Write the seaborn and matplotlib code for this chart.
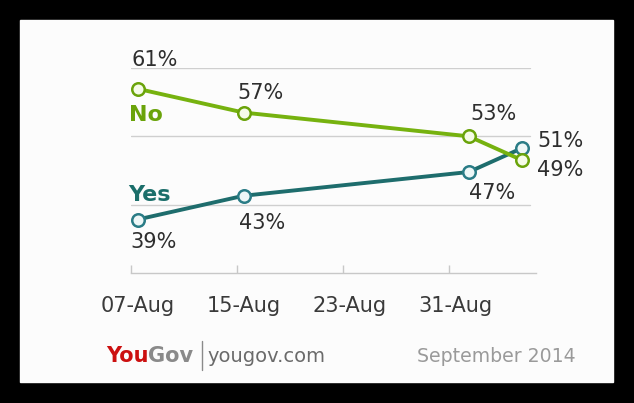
import matplotlib
matplotlib.use("Agg")
import matplotlib.pyplot as plt
import matplotlib.patches as mpatches
import matplotlib.lines as mlines
import pandas as pd
import seaborn as sns

# poll data (YouGov, Scottish independence)
dates = ["2014-08-07 12:00", "2014-08-15 12:00", "2014-09-01 12:00", "2014-09-05 12:00"]
no_vals = [61, 57, 53, 49]
yes_vals = [39, 43, 47, 51]
tick_dates = ["2014-08-07", "2014-08-15", "2014-08-23", "2014-08-31"]
tick_labels = ["07-Aug", "15-Aug", "23-Aug", "31-Aug"]

df = pd.DataFrame({
    "date": pd.to_datetime(dates * 2),
    "pct": no_vals + yes_vals,
    "answer": ["No"] * len(no_vals) + ["Yes"] * len(yes_vals),
})

sns.set_theme(style="white")
plt.rcParams["font.family"] = ["DejaVu Sans"]

W, H = 634, 403
fig = plt.figure(figsize=(W / 100, H / 100), dpi=100, facecolor="black")
fig.add_artist(mpatches.Rectangle((20 / W, 21 / H), 593 / W, 362 / H,
                                  transform=fig.transFigure, color="#fcfcfc", zorder=0))

ax = fig.add_axes([131 / W, (H - 273) / H, 405 / W, 205 / H])
ax.set_facecolor("none")

green = "#76b20f"
teal = "#1e6d6d"

sns.lineplot(data=df[df.answer == "Yes"], x="date", y="pct", ax=ax, color=teal,
             lw=2.8, marker="o", markersize=9, mfc="#eef7f7", mec="#2a7c86", mew=1.8,
             legend=False, zorder=3)
sns.lineplot(data=df[df.answer == "No"], x="date", y="pct", ax=ax, color=green,
             lw=2.8, marker="o", markersize=9, mfc="#f5fbe8", mec="#6aa30a", mew=1.8,
             legend=False, zorder=4)

ax.set_xlim(pd.Timestamp("2014-08-07"), pd.Timestamp("2014-09-06 13:40"))
ax.set_ylim(30, 64.5)

# horizontal gridlines
for yv in [41.5, 53, 64.5]:
    ax.axhline(yv, xmin=0, xmax=0.985, color="#cfcfcf", lw=1, zorder=1)

ax.set_yticks([])
ax.set_xticks(pd.to_datetime(tick_dates), labels=[""] * len(tick_dates))
ax.set_xticks(pd.to_datetime(tick_dates) + pd.Timedelta(hours=12), labels=tick_labels, minor=True)
ax.tick_params(axis="x", which="major", direction="in", length=6, width=1, color="#c8c8c8", bottom=True)
ax.tick_params(axis="x", which="minor", length=0, pad=16.5, labelsize=15, labelcolor="#3a3a3a")
for s in ["left", "right", "top"]:
    ax.spines[s].set_visible(False)
ax.spines["bottom"].set_color("#c8c8c8")
ax.spines["bottom"].set_linewidth(1)
ax.set_xlabel("")
ax.set_ylabel("")

# value labels (pixel offsets from points)
no_off = [(-6, 23), (-6, 14), (2, 16), (15, -16)]
yes_off = [(-7, -28), (-5, -33), (0, -27), (16, 1)]
xd = pd.to_datetime(dates)
for d, v, (dx, dy) in zip(xd, no_vals, no_off):
    ax.annotate(f"{v}%", (d, v), xytext=(dx, dy), textcoords="offset pixels",
                ha="left", va="baseline", fontsize=15, color="#2e2e2e", annotation_clip=False)
for d, v, (dx, dy) in zip(xd, yes_vals, yes_off):
    ax.annotate(f"{v}%", (d, v), xytext=(dx, dy), textcoords="offset pixels",
                ha="left", va="baseline", fontsize=15, color="#2e2e2e", annotation_clip=False)

ax.annotate("No", (xd[0], no_vals[0]), xytext=(-9, -32), textcoords="offset pixels",
            ha="left", va="baseline", fontsize=16, fontweight="bold", color="#6aa30a")
ax.annotate("Yes", (xd[0], yes_vals[0]), xytext=(-9, 19), textcoords="offset pixels",
            ha="left", va="baseline", fontsize=16, fontweight="bold", color="#1b6e6a")

# footer
fig.text(106 / W, (H - 362) / H, "You", fontsize=15, fontweight="bold", color="#cc1010", va="baseline")
fig.text(148 / W, (H - 362) / H, "Gov", fontsize=15, fontweight="bold", color="#8a8a8a", va="baseline")
fig.add_artist(mlines.Line2D([202 / W, 202 / W], [(H - 370) / H, (H - 341) / H],
                             transform=fig.transFigure, color="#8a8a8a", lw=1))
fig.text(207 / W, (H - 362) / H, "yougov.com", fontsize=14, color="#6a6a6a", va="baseline")
fig.text(417 / W, (H - 362) / H, "September 2014", fontsize=13.6, color="#9a9a9a", va="baseline")

fig.savefig("out.png", dpi=100, facecolor="black")
